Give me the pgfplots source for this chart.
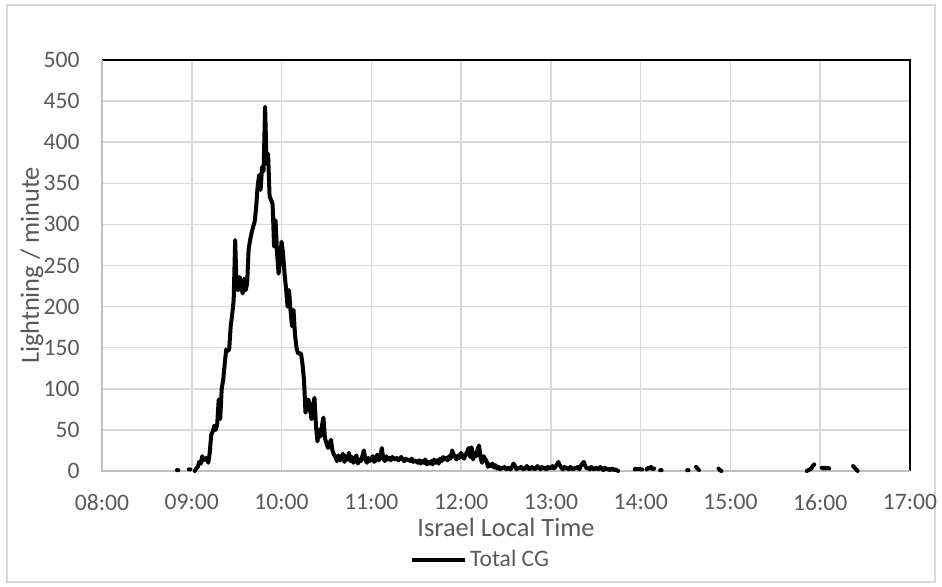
\documentclass[border=0pt]{standalone}
\usepackage{pgfplots}
\pgfplotsset{compat=1.18}
\usepackage{pgfplotstable}
\usepackage{fontspec}
\setmainfont{Carlito}

\definecolor{txtgray}{HTML}{595959}
\definecolor{gridgray}{HTML}{D9D9D9}
\definecolor{axgray}{HTML}{BFBFBF}

% minutes after 08:00, total CG per minute (nan = no data, gap in line)
\pgfplotstableread{
m v
50 1
51 1
52 nan
58 2
59 2
60 nan
62 0
63 3
64 5
65 11
66 9
67 18
68 13
69 15
70 16
71 10
72 22
73 44
74 48
75 55
76 50
77 57
78 87
79 63
80 100
81 111
82 130
83 148
84 146
85 148
86 176
87 190
88 208
89 281
90 222
91 220
92 236
93 225
94 216
95 234
96 220
97 228
98 270
99 281
100 290
101 297
102 303
103 320
104 346
105 360
106 342
107 370
108 365
109 443
110 374
111 386
112 334
113 330
114 325
115 273
116 305
117 265
118 240
119 257
120 279
121 265
122 240
123 222
124 200
125 220
126 195
127 176
128 196
129 165
130 150
131 143
132 143
133 143
134 130
135 111
136 71
137 80
138 87
139 75
140 63
141 80
142 89
143 55
144 36
145 50
146 42
147 55
148 65
149 40
150 34
151 28
152 33
153 38
154 25
155 20
156 17
157 12
158 19
159 13
160 16
161 21
162 11
163 18
164 14
165 22
166 12
167 17
168 10
169 15
170 19
171 9
172 14
173 12
174 18
175 25
176 14
177 10
178 16
179 12
180 15
181 18
182 11
183 14
184 20
185 13
186 17
187 28
188 15
189 12
190 18
191 14
192 16
193 13
194 17
195 15
196 14
197 16
198 13
199 15
200 17
201 14
202 12
203 15
204 13
205 14
206 12
207 15
208 11
209 13
210 12
211 10
212 13
213 9
214 12
215 10
216 14
217 8
218 11
219 9
220 12
221 8
222 14
223 10
224 13
225 9
226 15
227 12
228 17
229 14
230 16
231 13
232 18
233 15
234 25
235 20
236 17
237 14
238 19
239 16
240 22
241 18
242 15
243 20
244 23
245 28
246 17
247 29
248 14
249 22
250 18
251 26
252 31
253 16
254 10
255 18
256 15
257 12
258 5
259 8
260 6
261 9
262 4
263 7
264 3
265 5
266 2
267 4
268 3
269 5
270 2
271 3
272 4
273 2
274 5
275 9
276 6
277 2
278 4
279 3
280 5
281 3
282 2
283 4
284 6
285 3
286 2
287 5
288 4
289 2
290 3
291 6
292 4
293 2
294 5
295 3
296 4
297 2
298 5
299 3
300 4
301 6
302 3
303 5
304 8
305 11
306 7
307 4
308 2
309 5
310 3
311 4
312 2
313 5
314 3
315 2
316 4
317 3
318 5
319 2
320 6
321 9
322 11
323 6
324 3
325 4
326 2
327 5
328 3
329 2
330 4
331 3
332 2
333 5
334 3
335 1
336 4
337 2
338 3
339 1
340 2
341 3
342 1
343 2
344 1
345 0
346 nan
356 2
357 3
358 2
359 3
360 2
361 2
362 nan
364 2
365 4
366 3
367 5
368 2
369 3
370 nan
373 1
374 1
375 nan
391 1
392 1
393 nan
397 5
398 3
399 1
400 nan
412 3
413 1
414 0
415 nan
471 0
472 1
473 2
474 3
475 6
476 8
477 nan
481 4
482 3
483 4
484 3
485 4
486 3
487 nan
502 6
503 4
504 2
505 0
}\cgdata

\begin{document}
\begin{tikzpicture}
  % chart area and outer frame
  \path (-51pt,-58pt) rectangle (420pt,235.5pt);
  \draw[gridgray, line width=0.75pt] (-47.5pt,-55.5pt) rectangle (416.5pt,233pt);
  \begin{axis}[
      at={(0pt,0pt)}, anchor=south west,
      scale only axis,
      width=404pt, height=205.5pt,
      xmin=0, xmax=540,
      ymin=0, ymax=500,
      xtick={0,60,...,540},
      xticklabels={08:00,09:00,10:00,11:00,12:00,13:00,14:00,15:00,16:00,17:00},
      ytick={0,50,...,500},
      major tick length=0pt,
      grid=major,
      grid style={draw=gridgray, line width=0.75pt},
      axis line style={draw=none},
      clip=false,
      /pgf/number format/assume math mode=true,
      tick label style={font=\fontsize{11.8pt}{14pt}\selectfont, text=txtgray, inner sep=0pt},
      xticklabel style={anchor=north, yshift=-11.5pt},
      yticklabel style={anchor=east, xshift=-11pt},
      xlabel={Israel Local Time},
      ylabel={Lightning / minute},
      label style={font=\fontsize{13.2pt}{16pt}\selectfont, text=txtgray, inner sep=0pt},
      xlabel style={at={(axis description cs:0.5,-0.137)}, anchor=center},
      ylabel style={at={(axis description cs:-0.0866,0.5)}, anchor=center},
      legend style={
          at={(0.381,-0.2165)}, anchor=west,
          draw=none, fill=none, inner sep=0pt,
          font=\fontsize{11.8pt}{14pt}\selectfont, text=txtgray,
          nodes={inner sep=1.5pt}
      },
      legend image code/.code={
          \draw[#1, line width=2pt, line cap=butt] (0pt,0pt) -- (26.5pt,0pt);
      },
      unbounded coords=jump,
    ]
    \draw[black, line width=1pt] (rel axis cs:0,1) -- (rel axis cs:1,1) -- (rel axis cs:1,0);
    \draw[axgray, line width=1pt] (rel axis cs:0,1) -- (rel axis cs:0,0) -- (rel axis cs:1,0);
    \addplot[black, line width=2pt, line join=round, line cap=round] table[x=m, y=v] {\cgdata};
    \addlegendentry{Total CG}
  \end{axis}
\end{tikzpicture}
\end{document}
